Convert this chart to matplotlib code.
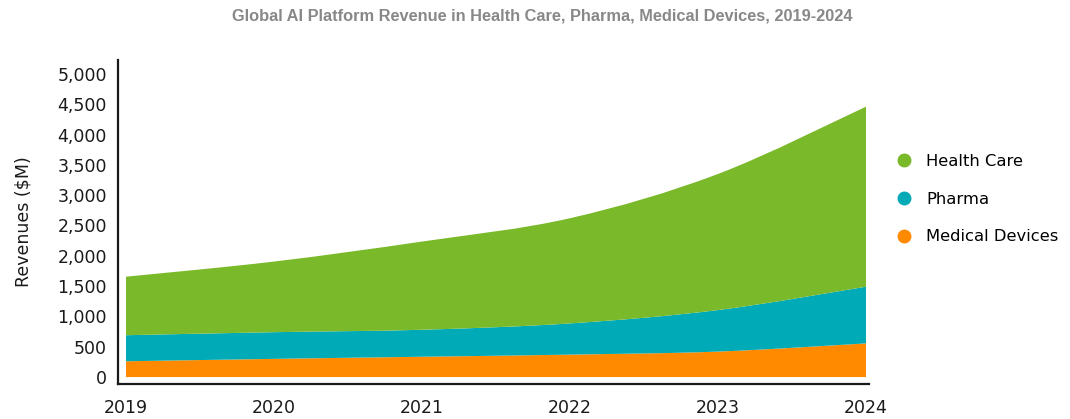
import matplotlib.pyplot as plt
import numpy as np
from matplotlib.path import Path
from matplotlib.patches import PathPatch
from matplotlib.lines import Line2D
from matplotlib.ticker import FuncFormatter

# ── data ────────────────────────────────────────────────────────────────────
years = [2019, 2020, 2021, 2022, 2023, 2024]
medical_devices = [260, 300, 335, 370, 420, 555]
pharma = [430, 440, 445, 515, 685, 935]
health_care = [965, 1165, 1455, 1735, 2245, 2970]

GREEN = "#7AB929"
TEAL = "#00AAB7"
ORANGE = "#FF8A00"
INK = "#1a1a1a"


def smooth_segments(xs, ys):
    # cubic bezier control points (catmull-rom style) through the data points
    xs = np.asarray(xs, float)
    ys = np.asarray(ys, float)
    n = len(xs)
    verts = []
    for i in range(n - 1):
        p0 = np.array([xs[max(i - 1, 0)], ys[max(i - 1, 0)]])
        p1 = np.array([xs[i], ys[i]])
        p2 = np.array([xs[i + 1], ys[i + 1]])
        p3 = np.array([xs[min(i + 2, n - 1)], ys[min(i + 2, n - 1)]])
        c1 = p1 + (p2 - p0) / 6.0
        c2 = p2 - (p3 - p1) / 6.0
        verts += [tuple(c1), tuple(c2), tuple(p2)]
    return verts


def band(ax, xs, lower, upper, color):
    verts = [(xs[0], upper[0])]
    codes = [Path.MOVETO]
    up = smooth_segments(xs, upper)
    verts += up
    codes += [Path.CURVE4] * len(up)
    verts.append((xs[-1], lower[-1]))
    codes.append(Path.LINETO)
    lo = smooth_segments(xs[::-1], lower[::-1])
    verts += lo
    codes += [Path.CURVE4] * len(lo)
    verts.append((xs[0], upper[0]))
    codes.append(Path.CLOSEPOLY)
    ax.add_patch(PathPatch(Path(verts, codes), facecolor=color, edgecolor="none", zorder=2))


fig = plt.figure(figsize=(10.7, 4.19), dpi=100)
ax = fig.add_axes([0.1103, 0.0835, 0.7018, 0.7733])

base = np.zeros(len(years))
top1 = base + np.array(medical_devices)
top2 = top1 + np.array(pharma)
top3 = top2 + np.array(health_care)

band(ax, years, list(base), list(top1), ORANGE)
band(ax, years, list(top1), list(top2), TEAL)
band(ax, years, list(top2), list(top3), GREEN)

ax.set_xlim(2018.946, 2024.02)
ax.set_ylim(-115, 5230)
ax.set_xticks(years)
ax.set_yticks(np.arange(0, 5001, 500))
ax.yaxis.set_major_formatter(FuncFormatter(lambda v, p: f"{int(v):,}"))
ax.tick_params(length=0, labelsize=12.5, colors=INK, pad=8)
ax.tick_params(axis="x", pad=11)

for s in ["top", "right"]:
    ax.spines[s].set_visible(False)
for s in ["left", "bottom"]:
    ax.spines[s].set_color(INK)
    ax.spines[s].set_linewidth(1.6)

ax.set_ylabel("Revenues ($M)", fontsize=12.5, color=INK, labelpad=18)

fig.text(0.507, 0.962, "Global AI Platform Revenue in Health Care, Pharma, Medical Devices, 2019-2024",
         ha="center", va="center", fontsize=11.8, fontweight="bold", color="#888888",
         family="Liberation Sans")

handles = [
    Line2D([0], [0], marker="o", ls="none", markersize=9, markerfacecolor=c, markeredgecolor=c, label=l)
    for c, l in [(GREEN, "Health Care"), (TEAL, "Pharma"), (ORANGE, "Medical Devices")]
]
fig.legend(handles=handles, loc="center left", bbox_to_anchor=(0.823, 0.525), frameon=False,
           fontsize=11.8, labelspacing=1.4, handletextpad=0.9, handlelength=1.0)

fig.savefig("out.png", dpi=100)
